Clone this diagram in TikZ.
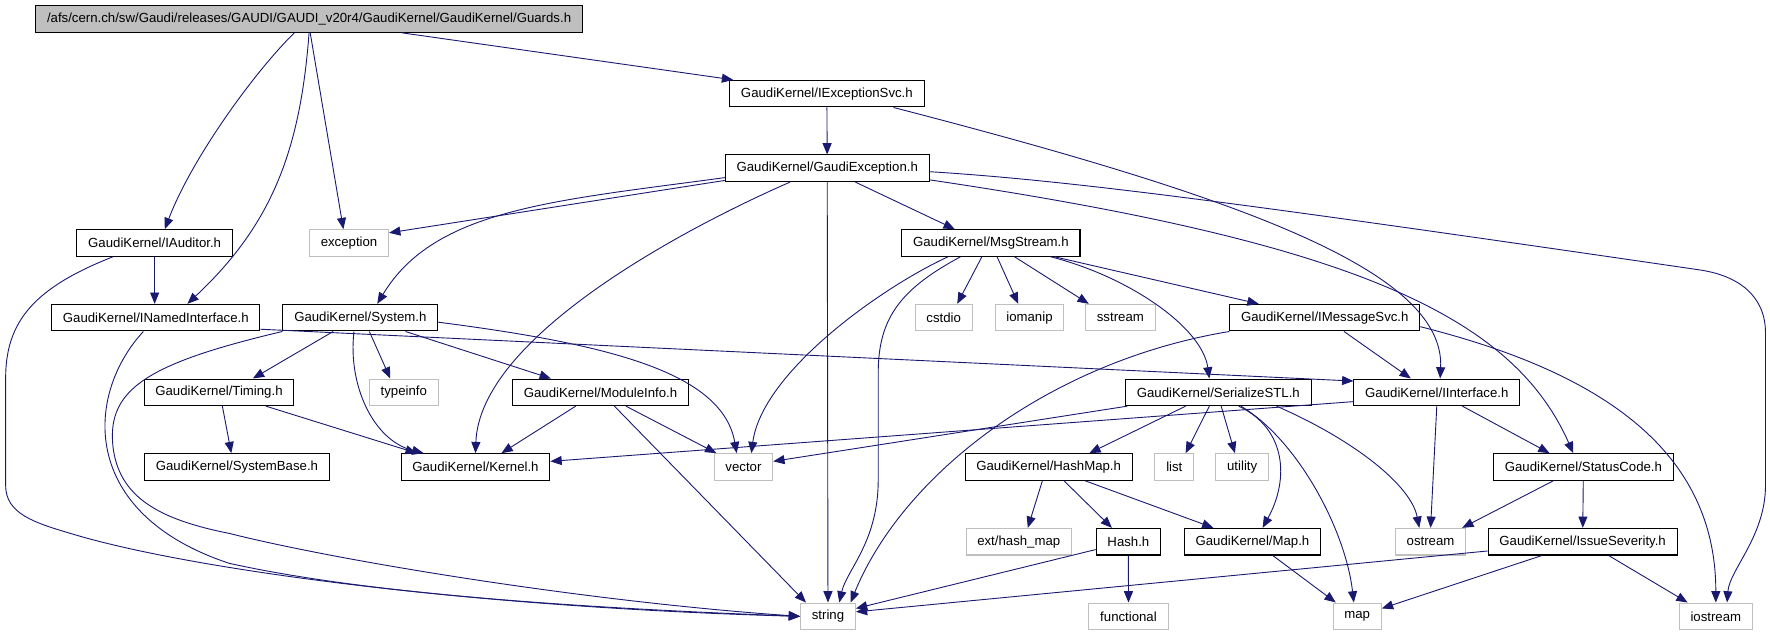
\documentclass[tikz,border=0pt]{standalone}
\usepackage{fontspec}
\setmainfont{Liberation Sans}
\usetikzlibrary{arrows.meta}
\definecolor{edgeblue}{RGB}{25,25,112}
\definecolor{extgray}{RGB}{191,191,191}

\begin{document}
\begin{tikzpicture}[x=1pt,y=1pt,
  hdr/.style={draw=black,line width=0.9pt,minimum height=23.6pt,inner xsep=10pt,inner ysep=0pt,
    font=\fontsize{11.7}{14}\selectfont},
  ext/.style={hdr,draw=extgray},
  dep/.style={draw=edgeblue,line width=0.8pt,-{Triangle[length=10pt,width=8pt]}}]
\useasboundingbox (0,0) rectangle (1568,-562);
% rows
\node[hdr,fill=extgray] (gd) at (273.8,-16.8) {/afs/cern.ch/sw/Gaudi/releases/GAUDI/GAUDI\_v20r4/GaudiKernel/GaudiKernel/Guards.h};
\node[hdr] (ies) at (732.5,-82.95) {GaudiKernel/IExceptionSvc.h};
\node[hdr] (gex) at (732.8,-149.1) {GaudiKernel/GaudiException.h};
\node[hdr] (iau) at (137,-215.25) {GaudiKernel/IAuditor.h};
\node[ext] (exc) at (309.2,-215.25) {exception};
\node[hdr] (msg) at (877.8,-215.25) {GaudiKernel/MsgStream.h};
\node[hdr] (nif) at (138,-281.4) {GaudiKernel/INamedInterface.h};
\node[hdr] (sys) at (319.2,-281.4) {GaudiKernel/System.h};
\node[ext] (cst) at (836,-281.4) {cstdio};
\node[ext] (iom) at (912,-281.4) {iomanip};
\node[ext] (sst) at (992.5,-281.4) {sstream};
\node[hdr] (ims) at (1173.6,-281.4) {GaudiKernel/IMessageSvc.h};
\node[hdr] (tim) at (194,-347.55) {GaudiKernel/Timing.h};
\node[ext] (tyi) at (357.7,-347.55) {typeinfo};
\node[hdr] (mod) at (532,-347.55) {GaudiKernel/ModuleInfo.h};
\node[hdr] (ser) at (1079.3,-347.55) {GaudiKernel/SerializeSTL.h};
\node[hdr] (iif) at (1272.8,-347.55) {GaudiKernel/IInterface.h};
\node[hdr] (sb) at (209.9,-413.7) {GaudiKernel/SystemBase.h};
\node[hdr] (ker) at (421.2,-413.7) {GaudiKernel/Kernel.h};
\node[ext] (vec) at (658.6,-413.7) {vector};
\node[hdr] (hm) at (929,-413.7) {GaudiKernel/HashMap.h};
\node[ext] (lst) at (1040.3,-413.7) {list};
\node[ext] (utl) at (1100.4,-413.7) {utility};
\node[hdr] (sc) at (1402.7,-413.7) {GaudiKernel/StatusCode.h};
\node[ext] (ehm) at (902.5,-479.85) {ext/hash\_map};
\node[hdr] (hsh) at (999.6,-479.85) {Hash.h};
\node[hdr] (mph) at (1109.5,-479.85) {GaudiKernel/Map.h};
\node[ext] (ost) at (1267.3,-479.85) {ostream};
\node[hdr] (iss) at (1402,-479.85) {GaudiKernel/IssueSeverity.h};
\node[ext] (str) at (733.5,-546) {string};
\node[ext] (fun) at (999.7,-546) {functional};
\node[ext] (mp) at (1202.3,-546) {map};
\node[ext] (ios) at (1520,-546) {iostream};
% Guards.h
\draw[dep] ([xshift=-13pt]gd.south) .. controls (226,-63) and (170,-140) .. ([xshift=9pt]iau.north);
\draw[dep] (gd.south) .. controls (266,-133) and (241,-199) .. ([xshift=28pt]nif.north);
\draw[dep] ([xshift=1pt]gd.south) -- ([xshift=-5pt]exc.north);
\draw[dep] ([xshift=82pt]gd.south) -- ([xshift=-83pt]ies.north);
% IAuditor.h, INamedInterface.h
\draw[dep] (iau.south) -- (iau.south |- nif.north);
\draw[dep] ([xshift=-37pt]iau.south) .. controls (30,-255) and (5,-285) .. (5,-335) -- (5,-430)
  .. controls (5,-455) and (30,-463) .. (64,-473) .. controls (170,-505) and (420,-538) .. (str.west);
\draw[dep] ([xshift=-11pt]nif.south) .. controls (75,-350) and (70,-455) .. (203,-499)
  .. controls (320,-525) and (500,-538) .. (str.west);
\draw[dep] ([yshift=2pt]nif.south east) -- ([yshift=10pt]iif.west);
% IExceptionSvc.h, GaudiException.h
\draw[dep] (ies) -- (gex);
\draw[dep] ([xshift=59pt]ies.south) .. controls (1100,-175) and (1280,-240) .. ([xshift=3pt]iif.north);
\draw[dep] ([yshift=1.5pt]gex.south west) -- ([yshift=9pt]exc.east);
\draw[dep] ([yshift=4pt]gex.south west) .. controls (490,-178) and (385,-185) .. ([xshift=15pt]sys.north);
\draw[dep] ([xshift=-33pt]gex.south) .. controls (600,-205) and (425,-300) .. (ker.north);
\draw[dep] (gex) -- (str);
\draw[dep] ([xshift=25pt]gex.south) -- ([xshift=-32pt]msg.north);
\draw[dep] ([yshift=2pt]gex.south east) .. controls (1200,-215) and (1340,-280) .. ([xshift=-9pt]sc.north);
\draw[dep] ([yshift=-3pt]gex.east) .. controls (950,-160) and (1100,-180) .. (1505,-239)
  .. controls (1540,-244) and (1564,-262) .. (1564,-295) -- (1564,-430)
  .. controls (1564,-475) and (1532,-505) .. ([xshift=10pt]ios.north);
% MsgStream.h
\draw[dep] ([xshift=-38pt]msg.south) .. controls (780,-255) and (675,-330) .. ([xshift=7pt]vec.north);
\draw[dep] ([xshift=-27pt]msg.south) .. controls (800,-255) and (778,-280) .. (778,-330) -- (778,-425)
  .. controls (778,-480) and (750,-505) .. ([xshift=10pt]str.north);
\draw[dep] ([xshift=-8pt]msg.south) -- ([xshift=12pt]cst.north);
\draw[dep] ([xshift=5.5pt]msg.south) -- ([xshift=-10pt]iom.north);
\draw[dep] ([xshift=21pt]msg.south) -- ([xshift=-28pt]sst.north);
\draw[dep] ([xshift=56.5pt]msg.south) -- ([xshift=-58.6pt]ims.north);
\draw[dep] ([xshift=53pt]msg.south) .. controls (1000,-245) and (1065,-290) .. ([xshift=-8pt]ser.north);
% IMessageSvc.h
\draw[dep] ([xshift=17pt]ims.south) -- ([xshift=-23pt]iif.north);
\draw[dep] (ims.south west) .. controls (930,-320) and (800,-420) .. ([xshift=20pt]str.north);
\draw[dep] ([yshift=-8pt]ims.east) .. controls (1420,-330) and (1520,-400) .. (ios.north);
% System.h
\draw[dep] ([xshift=-24pt]sys.south) -- ([xshift=30pt]tim.north);
\draw[dep] ([xshift=8pt]sys.south) -- ([xshift=-12pt]tyi.north);
\draw[dep] ([xshift=-5.6pt]sys.south) .. controls (308,-340) and (330,-390) .. ([xshift=-46pt]ker.north);
\draw[dep] ([xshift=40pt]sys.south) -- ([xshift=-44pt]mod.north);
\draw[dep] ([yshift=-4pt]sys.east) .. controls (540,-305) and (640,-330) .. ([xshift=-6pt]vec.north);
\draw[dep] (sys.south west) .. controls (130,-322) and (95,-345) .. (100,-395)
  .. controls (105,-440) and (140,-460) .. (203,-472.5) .. controls (300,-497) and (520,-533) .. (str.west);
% Timing.h, ModuleInfo.h
\draw[dep] ([xshift=3pt]tim.south) -- ([xshift=-5pt]sb.north);
\draw[dep] ([xshift=41.6pt]tim.south) -- ([xshift=-52pt]ker.north);
\draw[dep] ([xshift=-22pt]mod.south) -- ([xshift=23pt]ker.north);
\draw[dep] ([xshift=22.5pt]mod.south) -- ([xshift=-24pt]vec.north);
\draw[dep] ([xshift=12.3pt]mod.south) -- ([xshift=-19.5pt]str.north);
% SerializeSTL.h
\draw[dep] ([xshift=2pt]ser.south west) -- ([yshift=5pt]vec.east);
\draw[dep] ([xshift=-29pt]ser.south) -- ([xshift=36pt]hm.north);
\draw[dep] ([xshift=-8pt]ser.south) -- ([xshift=10pt]lst.north);
\draw[dep] ([xshift=2.5pt]ser.south) -- ([xshift=-6.4pt]utl.north);
\draw[dep] ([xshift=18pt]ser.south) .. controls (1140,-380) and (1142,-425) .. ([xshift=9pt]mph.north);
\draw[dep] ([xshift=20pt]ser.south) .. controls (1150,-390) and (1192,-470) .. ([xshift=-3pt]mp.north);
\draw[dep] ([xshift=51.6pt]ser.south) .. controls (1200,-390) and (1250,-430) .. ([xshift=-10pt]ost.north);
% IInterface.h, StatusCode.h, IssueSeverity.h
\draw[dep] ([yshift=4pt]iif.south west) -- ([yshift=5pt]ker.east);
\draw[dep] (iif.south) -- (ost.north);
\draw[dep] ([xshift=22.7pt]iif.south) -- ([xshift=-30pt]sc.north);
\draw[dep] ([xshift=-26.7pt]sc.south) -- ([xshift=28pt]ost.north);
\draw[dep] (sc) -- (iss);
\draw[dep] ([yshift=4pt]iss.south west) -- ([yshift=4pt]str.east);
\draw[dep] ([xshift=-36pt]iss.south) -- ([yshift=7pt]mp.east);
\draw[dep] ([xshift=23pt]iss.south) -- ([xshift=-25pt]ios.north);
% HashMap.h, Hash.h, Map.h
\draw[dep] ([xshift=-5.6pt]hm.south) -- ([xshift=8pt]ehm.north);
\draw[dep] ([xshift=13.6pt]hm.south) -- ([xshift=-14.6pt]hsh.north);
\draw[dep] ([xshift=32.4pt]hm.south) -- ([xshift=-34.6pt]mph.north);
\draw[dep] ([yshift=-7pt]hsh.west) -- ([yshift=7pt]str.east);
\draw[dep] (hsh) -- (fun);
\draw[dep] ([xshift=18pt]mph.south) -- ([xshift=-19pt]mp.north);
\end{tikzpicture}
\end{document}
